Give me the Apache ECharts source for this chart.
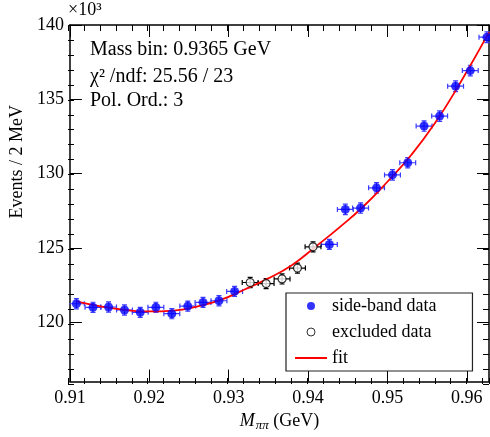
<!DOCTYPE html>
<html>
<head>
<meta charset="utf-8">
<script src="https://cdn.jsdelivr.net/npm/echarts@6/dist/echarts.min.js"></script>
<style>html,body{margin:0;padding:0;background:#fff;}#c{width:490px;height:437px;}</style>
</head>
<body>
<div id="c"></div>
<script>
// ---- data ----
const sideBandX = [0.91082, 0.91291, 0.91487, 0.91688, 0.91886, 0.92083, 0.92284, 0.92485, 0.92677, 0.92878, 0.93075,
                   0.94269, 0.94470, 0.94662, 0.94863, 0.95064, 0.95256, 0.95462, 0.95658, 0.95859, 0.96044, 0.96254];
const sideBandY = [121.24, 121.00, 121.02, 120.82, 120.66, 121.00, 120.57, 121.08, 121.33, 121.44, 122.07,
                   125.23, 127.59, 127.68, 129.04, 129.91, 130.73, 133.20, 133.87, 135.88, 136.93, 139.18];
const sideBandYErr = [0.34, 0.34, 0.34, 0.34, 0.34, 0.34, 0.34, 0.34, 0.34, 0.34, 0.34,
                      0.34, 0.35, 0.35, 0.35, 0.35, 0.35, 0.35, 0.35, 0.36, 0.36, 0.36];
const excludedX = [0.93271, 0.93472, 0.93673, 0.93867, 0.94063];
const excludedY = [122.67, 122.60, 122.91, 123.64, 125.07];
const excludedYErr = [0.34, 0.34, 0.34, 0.34, 0.34];
const binHalfWidth = 0.001;
const fitX = [0.9108, 0.914, 0.917, 0.920, 0.923, 0.926, 0.929, 0.932, 0.935, 0.938, 0.941, 0.944, 0.947, 0.950, 0.953, 0.956, 0.959, 0.9628];
const fitY = [121.40, 121.05, 120.82, 120.72, 120.78, 121.05, 121.50, 122.20, 122.95, 123.85, 125.10, 126.40, 127.80, 129.45, 131.25, 133.40, 135.95, 139.50];
const xTickLabels = [0.91, 0.92, 0.93, 0.94, 0.95, 0.96];
const yTickLabels = [120, 125, 130, 135, 140];
const infoLines = ['Mass bin: 0.9365 GeV', 'χ² /ndf: 25.56 / 23', 'Pol. Ord.: 3'];

// ---- chart ----
const FONT = 'Liberation Serif';
const X_MIN = 0.91, X_MAX = 0.9628, Y_MIN = 116, Y_MAX = 140;
const gridBox = { left: 68, right: 1, top: 25, bottom: 53 };

function errData(xs, ys, es) {
  return xs.map((x, i) => [x, ys[i], binHalfWidth, es[i]]);
}
function errRender(color) {
  return function (params, api) {
    const x = api.value(0), y = api.value(1), ex = api.value(2), ey = api.value(3);
    const l = api.coord([x - ex, y]), r = api.coord([x + ex, y]);
    const t = api.coord([x, y + ey]), b = api.coord([x, y - ey]);
    const cap = 2.5;
    const st = { stroke: color, lineWidth: 1.2 };
    return {
      type: 'group',
      children: [
        { type: 'line', shape: { x1: l[0], y1: l[1], x2: r[0], y2: r[1] }, style: st },
        { type: 'line', shape: { x1: t[0], y1: t[1], x2: b[0], y2: b[1] }, style: st },
        { type: 'line', shape: { x1: l[0], y1: l[1] - cap, x2: l[0], y2: l[1] + cap }, style: st },
        { type: 'line', shape: { x1: r[0], y1: r[1] - cap, x2: r[0], y2: r[1] + cap }, style: st },
        { type: 'line', shape: { x1: t[0] - cap, y1: t[1], x2: t[0] + cap, y2: t[1] }, style: st },
        { type: 'line', shape: { x1: b[0] - cap, y1: b[1], x2: b[0] + cap, y2: b[1] }, style: st }
      ]
    };
  };
}

const frameLine = { show: true, lineStyle: { color: '#000', width: 1.5 } };

const chart = echarts.init(document.getElementById('c'), null, { renderer: 'canvas' });
chart.setOption({
  animation: false,
  backgroundColor: '#fff',
  textStyle: { fontFamily: FONT },
  grid: [Object.assign({}, gridBox), Object.assign({}, gridBox)],
  xAxis: [
    {
      gridIndex: 0, type: 'value', position: 'bottom', min: X_MIN, max: X_MAX,
      axisLine: frameLine,
      axisTick: { show: true, inside: true, length: 12, customValues: xTickLabels, lineStyle: { color: '#000', width: 1 } },
      axisLabel: { show: true, margin: 8, customValues: xTickLabels, formatter: v => v.toFixed(2),
                   color: '#000', fontFamily: FONT, fontSize: 18 },
      splitLine: { show: false },
      name: '{i|M}{s|ππ} {n|(GeV)}',
      nameLocation: 'middle', nameGap: 27,
      nameTextStyle: {
        color: '#000', fontFamily: FONT, fontSize: 18,
        rich: {
          i: { fontFamily: FONT, fontSize: 18, fontStyle: 'italic', color: '#000' },
          s: { fontFamily: FONT, fontSize: 13, fontStyle: 'italic', color: '#000', padding: [8, 0, 0, 1] },
          n: { fontFamily: FONT, fontSize: 18, color: '#000' }
        }
      }
    },
    {
      gridIndex: 0, type: 'value', position: 'top', min: X_MIN, max: X_MAX,
      axisLine: frameLine,
      axisTick: { show: true, inside: true, length: 12, customValues: xTickLabels, lineStyle: { color: '#000', width: 1 } },
      axisLabel: { show: false }, splitLine: { show: false }
    },
    {
      gridIndex: 1, type: 'value', position: 'bottom', min: X_MIN, max: X_MAX, interval: 0.002,
      axisLine: { show: false },
      axisTick: { show: true, inside: true, length: 6, lineStyle: { color: '#000', width: 1 } },
      axisLabel: { show: false }, splitLine: { show: false }
    },
    {
      gridIndex: 1, type: 'value', position: 'top', min: X_MIN, max: X_MAX, interval: 0.002,
      axisLine: { show: false },
      axisTick: { show: true, inside: true, length: 6, lineStyle: { color: '#000', width: 1 } },
      axisLabel: { show: false }, splitLine: { show: false }
    }
  ],
  yAxis: [
    {
      gridIndex: 0, type: 'value', position: 'left', min: Y_MIN, max: Y_MAX,
      axisLine: frameLine,
      axisTick: { show: true, inside: true, length: 12, customValues: yTickLabels, lineStyle: { color: '#000', width: 1 } },
      axisLabel: { show: true, margin: 6, customValues: yTickLabels, color: '#000', fontFamily: FONT, fontSize: 18 },
      splitLine: { show: false },
      name: 'Events / 2 MeV', nameLocation: 'middle', nameGap: 41,
      nameTextStyle: { color: '#000', fontFamily: FONT, fontSize: 18, padding: [0, 0, 0, 83] }
    },
    {
      gridIndex: 0, type: 'value', position: 'right', min: Y_MIN, max: Y_MAX,
      axisLine: frameLine,
      axisTick: { show: true, inside: true, length: 12, customValues: yTickLabels, lineStyle: { color: '#000', width: 1 } },
      axisLabel: { show: false }, splitLine: { show: false }
    },
    {
      gridIndex: 1, type: 'value', position: 'left', min: Y_MIN, max: Y_MAX, interval: 1,
      axisLine: { show: false },
      axisTick: { show: true, inside: true, length: 6, lineStyle: { color: '#000', width: 1 } },
      axisLabel: { show: false }, splitLine: { show: false }
    },
    {
      gridIndex: 1, type: 'value', position: 'right', min: Y_MIN, max: Y_MAX, interval: 1,
      axisLine: { show: false },
      axisTick: { show: true, inside: true, length: 6, lineStyle: { color: '#000', width: 1 } },
      axisLabel: { show: false }, splitLine: { show: false }
    }
  ],
  legend: {
    orient: 'vertical', left: 286, top: 293,
    padding: [1, 36, 1, 8],
    itemWidth: 32, itemHeight: 8, itemGap: 2,
    backgroundColor: '#fff', borderColor: '#222', borderWidth: 1.2,
    textStyle: { color: '#000', fontFamily: FONT, fontSize: 18, lineHeight: 24 },
    data: [
      { name: 'side-band data' },
      { name: 'excluded data', itemStyle: { borderWidth: 1 } },
      { name: 'fit', itemStyle: { color: 'rgba(0,0,0,0)', borderWidth: 0, opacity: 0 } }
    ]
  },
  graphic: infoLines.map((t, i) => ({
    type: 'text', left: 90, top: [40, 67, 91][i],
    style: { text: t, fill: '#000', font: '20px ' + FONT }
  })).concat([{
    type: 'text', left: 68, top: 1,
    style: { text: '×10³', fill: '#000', font: '18px ' + FONT }
  }]),
  series: [
    {
      name: 'fit', type: 'line', xAxisIndex: 0, yAxisIndex: 0,
      data: fitX.map((x, i) => [x, fitY[i]]),
      smooth: 0.5, showSymbol: false, symbol: 'none', clip: true,
      lineStyle: { color: '#ff0000', width: 1.8 }, itemStyle: { color: '#ff0000' }, z: 3
    },
    {
      name: 'side-band err', type: 'custom', xAxisIndex: 0, yAxisIndex: 0,
      data: errData(sideBandX, sideBandY, sideBandYErr), renderItem: errRender('#3b3bff'),
      clip: true, z: 2, silent: true
    },
    {
      name: 'excluded err', type: 'custom', xAxisIndex: 0, yAxisIndex: 0,
      data: errData(excludedX, excludedY, excludedYErr), renderItem: errRender('#000'),
      clip: true, z: 2, silent: true
    },
    {
      name: 'side-band data', type: 'scatter', xAxisIndex: 0, yAxisIndex: 0,
      data: sideBandX.map((x, i) => [x, sideBandY[i]]),
      symbol: 'circle', symbolSize: 9, itemStyle: { color: '#0000ff' }, z: 4, clip: false
    },
    {
      name: 'excluded data', type: 'scatter', xAxisIndex: 0, yAxisIndex: 0,
      data: excludedX.map((x, i) => [x, excludedY[i]]),
      symbol: 'circle', symbolSize: 8, itemStyle: { color: '#fff', borderColor: '#000', borderWidth: 1.2 }, z: 4
    }
  ]
});
</script>
</body>
</html>
